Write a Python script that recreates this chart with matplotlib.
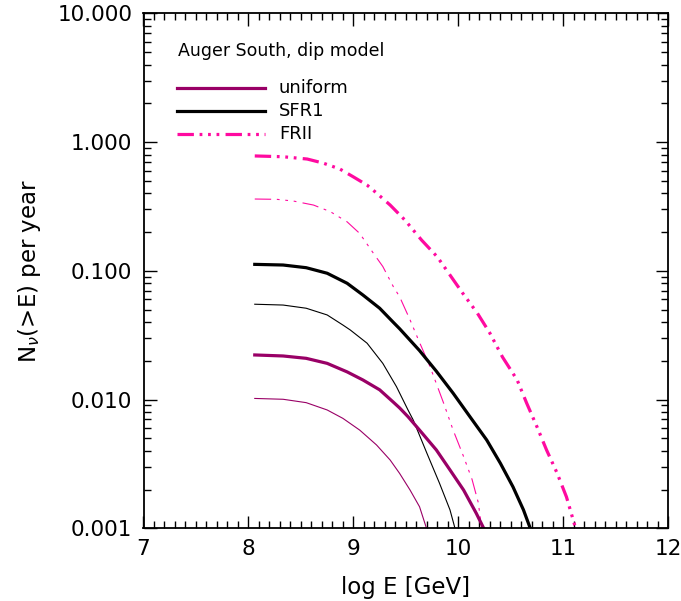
import matplotlib
matplotlib.use("Agg")
import matplotlib.pyplot as plt
from matplotlib.ticker import MultipleLocator, LogLocator, NullFormatter
from matplotlib.lines import Line2D
import numpy as np

plt.rcParams['font.family'] = ['DejaVu Sans']
plt.rcParams['lines.scale_dashes'] = False

# ---- data ----
title_text = "Auger South, dip model"
labels = ["uniform", "SFR1", "FRII"]

# FRII, thick (upper) and thin (lower)
frii_thick_x = [8.06, 8.33, 8.56, 8.71, 8.87, 9.00, 9.13, 9.22, 9.35, 9.49, 9.65, 9.80, 9.92,
                10.04, 10.18, 10.30, 10.42, 10.56, 10.65, 10.75, 10.84, 10.94, 11.03, 11.125]
frii_thick_y = [0.780, 0.769, 0.738, 0.687, 0.618, 0.536, 0.463, 0.402, 0.324, 0.248, 0.173, 0.128, 0.0927,
                0.0672, 0.0470, 0.0328, 0.0214, 0.0142, 0.0094, 0.00611, 0.00406, 0.00269, 0.00175, 0.00095]
frii_thin_x = [8.06, 8.27, 8.43, 8.62, 8.78, 8.94, 9.06, 9.19, 9.28, 9.38, 9.44, 9.54, 9.62, 9.73,
               9.86, 9.95, 10.05, 10.13, 10.19, 10.225]
frii_thin_y = [0.361, 0.359, 0.348, 0.324, 0.288, 0.240, 0.195, 0.137, 0.108, 0.0754, 0.0629, 0.0415, 0.0290, 0.0180,
               0.00935, 0.00579, 0.00360, 0.00240, 0.00158, 0.00095]

# SFR1
sfr_thick_x = [8.06, 8.33, 8.55, 8.75, 8.94, 9.09, 9.25, 9.38, 9.44, 9.63, 9.79, 9.95, 10.11,
               10.27, 10.40, 10.52, 10.62, 10.695]
sfr_thick_y = [0.1122, 0.1109, 0.1057, 0.0957, 0.0800, 0.0649, 0.0512, 0.0398, 0.0355, 0.0240, 0.0166, 0.0112, 0.00736,
               0.00485, 0.00320, 0.00210, 0.00139, 0.00095]
sfr_thin_x = [8.06, 8.33, 8.55, 8.75, 8.90, 8.97, 9.13, 9.28, 9.41, 9.52, 9.57, 9.70, 9.82, 9.92, 9.975]
sfr_thin_y = [0.0550, 0.0542, 0.0512, 0.0454, 0.0379, 0.0347, 0.0274, 0.0191, 0.0126, 0.00830, 0.00693,
              0.00383, 0.00224, 0.00139, 0.00095]

# uniform
uni_thick_x = [8.06, 8.33, 8.55, 8.75, 8.94, 9.09, 9.25, 9.38, 9.44, 9.52, 9.63, 9.79, 9.92, 10.05, 10.17, 10.255]
uni_thick_y = [0.0222, 0.0218, 0.0209, 0.0191, 0.0164, 0.0142, 0.0119, 0.00955, 0.00861, 0.00736, 0.00579,
               0.00406, 0.00284, 0.00198, 0.00131, 0.00095]
uni_thin_x = [8.06, 8.33, 8.55, 8.75, 8.90, 9.06, 9.22, 9.35, 9.44, 9.54, 9.63, 9.705]
uni_thin_y = [0.0102, 0.01005, 0.00946, 0.00830, 0.00714, 0.00579, 0.00444, 0.00339, 0.00267, 0.00198,
              0.00147, 0.00095]

xticks = [7, 8, 9, 10, 11, 12]
yticks = [0.001, 0.01, 0.1, 1.0, 10.0]
ytick_labels = ["0.001", "0.010", "0.100", "1.000", "10.000"]

c_uni = '#990066'
c_sfr = '#000000'
c_frii = '#ff0aa0'
frii_dash = (0, (11.8, 4.1, 2.0, 4.1, 2.0, 4.1, 2.0, 4.5))

W, H = 681, 601
fig = plt.figure(figsize=(W / 100, H / 100), dpi=100)
L, R, T, B = 143.5, 668.3, 13.3, 528.3
ax = fig.add_axes([L / W, 1 - B / H, (R - L) / W, (B - T) / H])

thick = 2.3
thin = 0.8
ax.plot(frii_thick_x, frii_thick_y, color=c_frii, lw=thick, linestyle=frii_dash, dash_capstyle='butt')
ax.plot(frii_thin_x, frii_thin_y, color=c_frii, lw=thin, linestyle=frii_dash, dash_capstyle='butt')
ax.plot(sfr_thick_x, sfr_thick_y, color=c_sfr, lw=thick)
ax.plot(sfr_thin_x, sfr_thin_y, color=c_sfr, lw=thin)
ax.plot(uni_thick_x, uni_thick_y, color=c_uni, lw=thick)
ax.plot(uni_thin_x, uni_thin_y, color=c_uni, lw=thin)

ax.set_yscale('log')
ax.set_xlim(7, 12)
ax.set_ylim(0.001, 10.0)

ax.set_xticks(xticks)
ax.set_xticklabels([str(t) for t in xticks])
ax.xaxis.set_minor_locator(MultipleLocator(0.1))
ax.set_yticks(yticks)
ax.set_yticklabels(ytick_labels)
ax.yaxis.set_minor_locator(LogLocator(base=10, subs=np.arange(2, 10)))
ax.yaxis.set_minor_formatter(NullFormatter())

ax.tick_params(which='both', direction='in', top=True, right=True, width=1.0)
ax.tick_params(which='major', length=9, labelsize=15.5, pad=8)
ax.tick_params(which='minor', length=5)
for s in ax.spines.values():
    s.set_linewidth(1.3)

ax.set_xlabel("log E [GeV]", fontsize=16.5, labelpad=12)
ax.set_ylabel(r"N$_\nu$(>E) per year", fontsize=16.5, labelpad=10)

fig.text(178 / W, 1 - 51 / H, title_text, fontsize=12.5, va='center', ha='left')

leg_items = [(labels[0], c_uni, '-', 88), (labels[1], c_sfr, '-', 111), (labels[2], c_frii, frii_dash, 134)]
for lab, col, ls, ypx in leg_items:
    ln = Line2D([177 / W, 265 / W], [1 - ypx / H, 1 - ypx / H], transform=fig.transFigure,
                color=col, lw=thick, linestyle=ls, dash_capstyle='butt')
    fig.add_artist(ln)
    fig.text(279 / W, 1 - ypx / H, lab, fontsize=13, va='center', ha='left')

fig.savefig("out.png", dpi=100)
